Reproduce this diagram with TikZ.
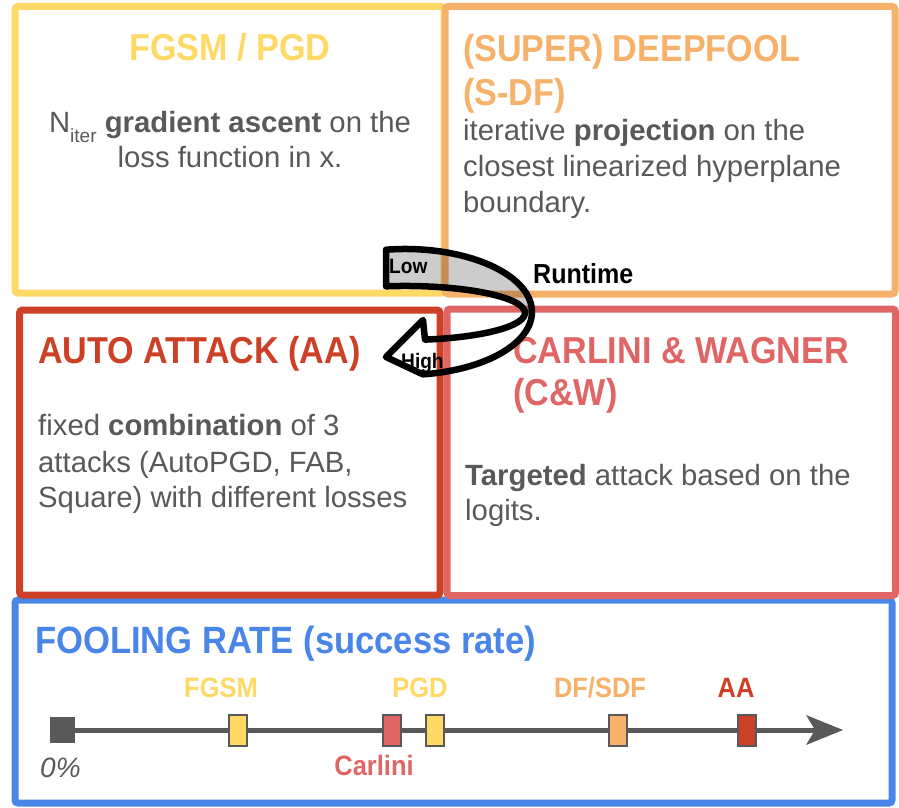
\documentclass[tikz,border=0pt]{standalone}
\usepackage{fontspec}
\setmainfont{Liberation Sans}
\newfontfamily\tf{Liberation Sans}[FakeStretch=0.91]
\definecolor{cy}{HTML}{FFD966}
\definecolor{co}{HTML}{F6B26B}
\definecolor{cr}{HTML}{CC4125}
\definecolor{cp}{HTML}{E06666}
\definecolor{cb}{HTML}{4A86E8}
\definecolor{cg}{HTML}{595959}
\begin{document}
\begin{tikzpicture}[x=1pt,y=1pt,
  box/.style={line width=7pt, rounded corners=3pt, inner sep=0pt},
  ttl/.style={font=\tf\bfseries\fontsize{37.5}{45}\selectfont, inner sep=0pt, anchor=base west},
  body/.style={font=\fontsize{29.3}{36}\selectfont, text=cg, inner sep=0pt, anchor=base west},
  mk/.style={draw=cg, line width=2pt, minimum width=18pt, minimum height=31pt, inner sep=0pt},
  lab/.style={font=\tf\bfseries\fontsize{28}{28}\selectfont, inner sep=0pt, anchor=base},
  small/.style={font=\tf\bfseries\fontsize{21}{21}\selectfont, inner sep=0pt, anchor=base west}
]
\useasboundingbox (0,0) rectangle (899,-808);
\fill[white] (0,0) rectangle (899,-808);

% boxes
\node[box, draw=cb, minimum width=877pt, minimum height=203pt] (blue) at (453.5,-701.5) {};
\node[box, draw=cy, minimum width=429pt, minimum height=286.5pt] (fgsm) at (229.5,-149.75) {};
\node[box, draw=co, minimum width=450pt, minimum height=287.5pt] (df) at (670,-150.25) {};
\node[box, draw=cr, minimum width=420.5pt, minimum height=285pt] (aa) at (229.75,-452.5) {};
\node[box, draw=cp, minimum width=448.5pt, minimum height=286.5pt] (cw) at (671.25,-452.25) {};

% FGSM box
\node[ttl, text=cy, anchor=base] (fgT) at (230,-60) {FGSM / PGD};
\node[body, anchor=base] (fgB1) at (230,-132) {N\raisebox{-10pt}{\fontsize{19}{19}\selectfont iter} \textbf{gradient ascent} on the};
\node[body, anchor=base] (fgB2) at (230,-167) {loss function in x.};

% DeepFool box
\node[ttl, text=co] (dfT1) at (463,-61.5) {(SUPER) DEEPFOOL};
\node[ttl, text=co] (dfT2) at (463,-105) {(S-DF)};
\node[body] (dfB1) at (463,-140) {iterative \textbf{projection} on the};
\node[body] (dfB2) at (463,-176) {closest linearized hyperplane};
\node[body] (dfB3) at (463,-212) {boundary.};

% Auto attack box
\node[ttl, text=cr] (aaT) at (38,-363) {AUTO ATTACK (AA)};
\node[body] (aaB1) at (38,-435) {fixed \textbf{combination} of 3};
\node[body] (aaB2) at (38,-472) {attacks (AutoPGD, FAB,};
\node[body] (aaB3) at (38,-507) {Square) with different losses};

% Carlini box
\node[ttl, text=cp] (cwT1) at (513,-363) {CARLINI \& WAGNER};
\node[ttl, text=cp] (cwT2) at (513,-405) {(C\&W)};
\node[body] (cwB1) at (465,-485) {\textbf{Targeted} attack based on the};
\node[body] (cwB2) at (465,-520) {logits.};

% Fooling rate
\node[ttl, text=cb, font=\tf\bfseries\fontsize{38}{44}\selectfont] (frT) at (35,-653) {FOOLING RATE (success rate)};

\node[fill=cg, minimum width=25pt, minimum height=26pt, inner sep=0pt] (t0) at (62.5,-730) {};
\coordinate (tend) at (815,-730);
\draw[cg, line width=5pt] (t0.east) -- (tend);
\fill[cg] (806,-715) -- (843,-730) -- (806,-745) -- (tend) -- cycle;

\node[mk, fill=cy] (mFGSM) at (238,-730) {};
\node[mk, fill=cp] (mCW) at (392,-730) {};
\node[mk, fill=cy] (mPGD) at (435,-730) {};
\node[mk, fill=co] (mDF) at (618,-730) {};
\node[mk, fill=cr] (mAA) at (747,-730) {};

\node[lab, text=cy] (lFGSM) at (221,-697) {FGSM};
\node[lab, text=cy] (lPGD) at (420,-697) {PGD};
\node[lab, text=co] (lDF) at (600,-697) {DF/SDF};
\node[lab, text=cr] (lAA) at (736,-697) {AA};
\node[lab, text=cp] (lCW) at (374,-775) {Carlini};
\node[font=\itshape\fontsize{28}{28}\selectfont, text=cg, inner sep=0pt, anchor=base west] (l0) at (40,-777) {0\%};

% curved runtime arrow
\fill[black, opacity=0.2] (386,-249.7) arc[start angle=98.6, end angle=0, x radius=127, y radius=63] -- (525,-313) arc[start angle=0, end angle=99.1, x radius=120, y radius=27] -- cycle;
\draw[line width=6.5pt, line join=round] (386,-249.7) arc[start angle=98.6, end angle=-81.9, x radius=127, y radius=63] -- (386,-357) -- (423,-320) -- (425,-339.6) arc[start angle=-80.4, end angle=99.1, x radius=120, y radius=27] -- cycle;

\node[small] (low) at (389,-273) {Low};
\node[small] (high) at (401,-368) {High};
\node[small, font=\tf\bfseries\fontsize{27.5}{28}\selectfont] (rt) at (533,-283) {Runtime};
\end{tikzpicture}
\end{document}
